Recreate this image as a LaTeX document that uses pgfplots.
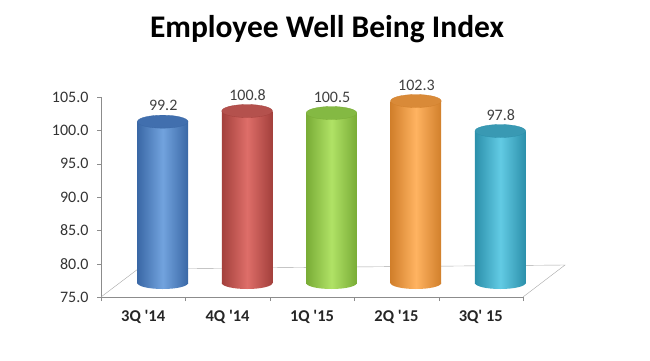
\documentclass[border=0pt]{standalone}
\usepackage{pgfplots}
\pgfplotsset{compat=1.18}
\usepackage{fontspec}
\setmainfont{Carlito}
\definecolor{blueL}{HTML}{72A3DE}
\definecolor{blueD}{HTML}{3A68A6}
\definecolor{blueT}{HTML}{416FAE}
\definecolor{redL}{HTML}{DE6E69}
\definecolor{redD}{HTML}{A3403C}
\definecolor{redT}{HTML}{B4514D}
\definecolor{greenL}{HTML}{B0E266}
\definecolor{greenD}{HTML}{79AC36}
\definecolor{greenT}{HTML}{84B943}
\definecolor{orangeL}{HTML}{FFB361}
\definecolor{orangeD}{HTML}{D17F2B}
\definecolor{orangeT}{HTML}{D98A38}
\definecolor{cyanL}{HTML}{62CBE4}
\definecolor{cyanD}{HTML}{2C90AB}
\definecolor{cyanT}{HTML}{3999B3}
\tikzset{cylbody/.style={}, cyltop/.style={}}
\pgfdeclareplotmark{cylbot}{\path[cylbody,rotate=8] (0pt,0pt) ellipse [x radius=25.3pt,y radius=6pt];}
\pgfdeclareplotmark{cyltop}{\path[cyltop,rotate=8] (0pt,0pt) ellipse [x radius=25.3pt,y radius=6.5pt];}
\begin{document}
\begin{tikzpicture}
\path[use as bounding box] (0,0) rectangle (650pt,360pt);
\node[font=\bfseries\fontsize{31.5}{36}\selectfont] at (327pt,331pt) {Employee Well Being Index};
\begin{axis}[
  at={(101pt,63pt)}, anchor=south west, scale only axis,
  width=422pt, height=200pt,
  xmin=-0.5, xmax=4.5, ymin=75, ymax=105,
  clip=false,
  axis lines*=left,
  axis line style={draw=black!45},
  tick style={draw=black!45},
  tick align=outside,
  major tick length=4pt, minor tick length=4pt,
  ytick={75,80,...,105},
  xtick={0,...,4},
  xticklabels={3Q \textquotesingle14, 4Q \textquotesingle14, 1Q \textquotesingle15, 2Q \textquotesingle15, 3Q\textquotesingle\ 15},
  minor xtick={-0.5,0.5,...,4.5},
  every major x tick/.style={draw=none},
  /pgf/number format/assume math mode=true,
  tick label style={font=\fontsize{16}{18}\selectfont, text=black!80},
  xticklabel style={font=\bfseries\fontsize{16.5}{18}\selectfont, text=black!85, yshift=-6pt},
  yticklabel style={xshift=-5pt, /pgf/number format/.cd, fixed, fixed zerofill, precision=1},
]
% floor
\draw[black!35] (axis cs:-0.5,75) -- ++(37pt,28pt) -- ([shift={(42pt,32pt)}]axis cs:4.5,75) -- (axis cs:4.5,75);

% blue
\addplot[xshift=19.5pt,yshift=14pt,only marks,mark=cylbot,cylbody/.style={left color=blueD,right color=blueD,middle color=blueL,draw=none}] coordinates {(0,75)};
\addplot[xshift=19.5pt,yshift=14pt,draw=none,mark=none,left color=blueD,right color=blueD,middle color=blueL] coordinates {(-0.3,75) (-0.3,99.2) (0.3,99.2) (0.3,75)} -- cycle;
\addplot[xshift=19.5pt,yshift=14pt,only marks,mark=cyltop,cyltop/.style={fill=blueT,draw=blueD,line width=0.3pt}] coordinates {(0,99.2)};
% red
\addplot[xshift=19.5pt,yshift=14pt,only marks,mark=cylbot,cylbody/.style={left color=redD,right color=redD,middle color=redL,draw=none}] coordinates {(1,75)};
\addplot[xshift=19.5pt,yshift=14pt,draw=none,mark=none,left color=redD,right color=redD,middle color=redL] coordinates {(0.7,75) (0.7,100.8) (1.3,100.8) (1.3,75)} -- cycle;
\addplot[xshift=19.5pt,yshift=14pt,only marks,mark=cyltop,cyltop/.style={fill=redT,draw=redD,line width=0.3pt}] coordinates {(1,100.8)};
% green
\addplot[xshift=19.5pt,yshift=14pt,only marks,mark=cylbot,cylbody/.style={left color=greenD,right color=greenD,middle color=greenL,draw=none}] coordinates {(2,75)};
\addplot[xshift=19.5pt,yshift=14pt,draw=none,mark=none,left color=greenD,right color=greenD,middle color=greenL] coordinates {(1.7,75) (1.7,100.5) (2.3,100.5) (2.3,75)} -- cycle;
\addplot[xshift=19.5pt,yshift=14pt,only marks,mark=cyltop,cyltop/.style={fill=greenT,draw=greenD,line width=0.3pt}] coordinates {(2,100.5)};
% orange
\addplot[xshift=19.5pt,yshift=14pt,only marks,mark=cylbot,cylbody/.style={left color=orangeD,right color=orangeD,middle color=orangeL,draw=none}] coordinates {(3,75)};
\addplot[xshift=19.5pt,yshift=14pt,draw=none,mark=none,left color=orangeD,right color=orangeD,middle color=orangeL] coordinates {(2.7,75) (2.7,102.3) (3.3,102.3) (3.3,75)} -- cycle;
\addplot[xshift=19.5pt,yshift=14pt,only marks,mark=cyltop,cyltop/.style={fill=orangeT,draw=orangeD,line width=0.3pt}] coordinates {(3,102.3)};
% cyan
\addplot[xshift=19.5pt,yshift=14pt,only marks,mark=cylbot,cylbody/.style={left color=cyanD,right color=cyanD,middle color=cyanL,draw=none}] coordinates {(4,75)};
\addplot[xshift=19.5pt,yshift=14pt,draw=none,mark=none,left color=cyanD,right color=cyanD,middle color=cyanL] coordinates {(3.7,75) (3.7,97.8) (4.3,97.8) (4.3,75)} -- cycle;
\addplot[xshift=19.5pt,yshift=14pt,only marks,mark=cyltop,cyltop/.style={fill=cyanT,draw=cyanD,line width=0.3pt}] coordinates {(4,97.8)};

% labels
\addplot[draw=none, mark=none, nodes near coords, point meta=explicit symbolic,
  every node near coord/.append style={anchor=center, xshift=20pt, yshift=30pt, font=\fontsize{16}{18}\selectfont, text=black!75}]
  coordinates {(0,99.2)[99.2] (1,100.8)[100.8] (2,100.5)[100.5] (3,102.3)[102.3] (4,97.8)[97.8]};
\end{axis}
\end{tikzpicture}
\end{document}
